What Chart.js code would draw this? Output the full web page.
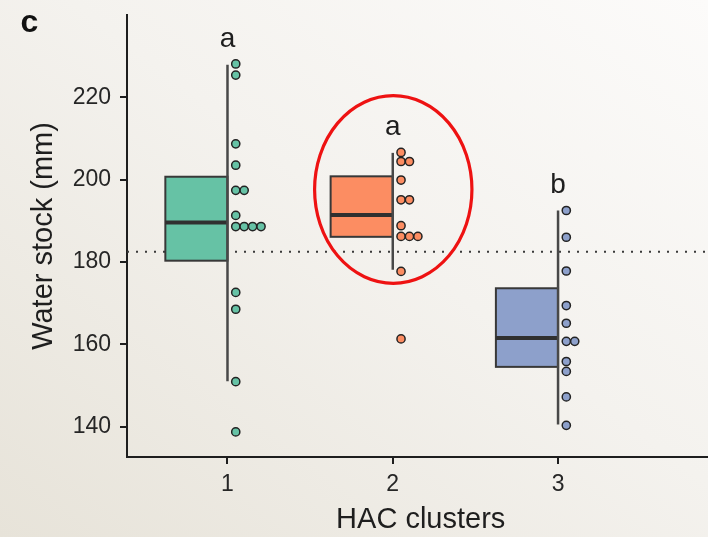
<!DOCTYPE html>
<html>
<head>
<meta charset="utf-8">
<script src="https://cdn.jsdelivr.net/npm/chart.js@4.4.0/dist/chart.umd.min.js"></script>
<style>
  html, body { margin: 0; padding: 0; width: 708px; height: 537px; overflow: hidden; }
  body { background: linear-gradient(to bottom left, #fcfbfa 0%, #f4f2ee 45%, #e7e3d9 100%); }
  #wrap { width: 720px; height: 537px; }
  canvas { display: block; }
</style>
</head>
<body>
<div id="wrap"><canvas id="chart" width="720" height="537"></canvas></div>
<script>
// HAC clusters and their box-plot summaries of water stock (mm)
const clusters = [1, 2, 3];
const clusterColors = ['#66c2a5', '#fc8d62', '#8da0cb'];
const boxQ1 = [180.3, 186.1, 154.5];
const boxMedian = [189.6, 191.4, 161.5];
const boxQ3 = [200.7, 200.8, 173.6];
const whiskerLow = [151.0, 178.1, 140.5];
const whiskerHigh = [227.9, 206.5, 192.5];

// individual observations per cluster
const cluster1Stock = [228.1, 225.4, 208.7, 203.5, 197.4, 197.4, 191.3, 188.6, 188.6, 188.6, 188.6, 172.6, 168.5, 150.9, 138.7];
const cluster2Stock = [206.6, 204.4, 204.4, 199.9, 195.1, 195.1, 188.8, 186.2, 186.2, 186.2, 177.7, 161.3];
const cluster3Stock = [192.5, 186.0, 177.8, 169.4, 165.1, 160.7, 160.7, 155.8, 153.4, 147.2, 140.3];

// significance letters and the overall mean reference
const groupLetters = ['a', 'a', 'b'];
const letterLevels = [232.3, 210.8, 196.7];
const meanStock = 182.5;

const yTicks = [140, 160, 180, 200, 220];
const xTicks = [1, 2, 3];

const FONT = "'Liberation Sans', Arial, Helvetica, sans-serif";
const X_MIN = 0.392, X_MAX = 3.946;
const Y_MIN = 132.6, Y_MAX = 240;
const BOX_WIDTH = 0.376;       // box extends to the left of the whisker
const DOT_OFFSET = 0.05;       // first dot column right of the whisker
const DOT_STEP = 0.051;        // spacing between tied dots

// lay tied values out side by side, dot-plot style
function dotLayout(cluster, values) {
  const seen = {};
  return values.map(v => {
    const k = v.toFixed(1);
    const col = seen[k] || 0;
    seen[k] = col + 1;
    return { x: cluster + DOT_OFFSET + col * DOT_STEP, y: v };
  });
}

const allStock = [cluster1Stock, cluster2Stock, cluster3Stock];

const dotSets = allStock.map((vals, i) => ({
  type: 'scatter',
  label: 'Cluster ' + clusters[i],
  data: dotLayout(clusters[i], vals),
  backgroundColor: clusterColors[i],
  borderColor: '#232323',
  borderWidth: 1.5,
  pointRadius: 4.1,
  pointHoverRadius: 4.1,
  order: 0
}));

const meanLine = {
  type: 'line',
  label: 'mean',
  data: [{ x: X_MIN, y: meanStock }, { x: X_MAX, y: meanStock }],
  borderColor: '#3a3a3a',
  borderWidth: 2,
  borderDash: [2, 7],
  pointRadius: 0,
  fill: false,
  order: 10
};

const boxPlot = {
  id: 'boxPlot',
  afterDatasetDraw(chart, args) {
    if (args.index !== 3) return;   // boxes sit above the mean line, below the dots
    const { ctx, scales: { x, y } } = chart;
    ctx.save();
    clusters.forEach((c, i) => {
      const xr = x.getPixelForValue(c);
      const xl = x.getPixelForValue(c - BOX_WIDTH);
      const yTop = y.getPixelForValue(boxQ3[i]);
      const yBot = y.getPixelForValue(boxQ1[i]);
      const yMed = y.getPixelForValue(boxMedian[i]);
      ctx.fillStyle = clusterColors[i];
      ctx.fillRect(xl, yTop, xr - xl, yBot - yTop);
      ctx.strokeStyle = '#383838';
      ctx.lineWidth = 2;
      ctx.strokeRect(xl, yTop, xr - xl, yBot - yTop);
      ctx.lineWidth = 4;
      ctx.strokeStyle = '#303030';
      ctx.beginPath();
      ctx.moveTo(xl, yMed);
      ctx.lineTo(xr, yMed);
      ctx.stroke();
      ctx.lineWidth = 2.5;
      ctx.strokeStyle = '#484848';
      ctx.beginPath();
      ctx.moveTo(xr, y.getPixelForValue(whiskerLow[i]));
      ctx.lineTo(xr, y.getPixelForValue(whiskerHigh[i]));
      ctx.stroke();
    });
    ctx.restore();
  },
  afterDatasetsDraw(chart) {
    const { ctx, scales: { x, y } } = chart;
    ctx.save();
    // group letters
    ctx.fillStyle = '#1e1e1e';
    ctx.font = '28px ' + FONT;
    ctx.textAlign = 'center';
    ctx.textBaseline = 'alphabetic';
    clusters.forEach((c, i) => {
      ctx.fillText(groupLetters[i], x.getPixelForValue(c), y.getPixelForValue(letterLevels[i]));
    });
    // highlight ring around cluster 2
    const cx = x.getPixelForValue(2.003), cy = y.getPixelForValue(197.6);
    const rx = x.getPixelForValue(2.003 + 0.476) - cx;
    const ry = y.getPixelForValue(197.6 - 22.8) - cy;
    ctx.strokeStyle = '#ee1212';
    ctx.lineWidth = 3.2;
    ctx.beginPath();
    ctx.ellipse(cx, cy, rx, ry, 0, 0, Math.PI * 2);
    ctx.stroke();
    // panel tag
    ctx.fillStyle = '#111';
    ctx.font = 'bold 32px ' + FONT;
    ctx.textAlign = 'center';
    ctx.fillText('c', 29.5, 32);
    ctx.restore();
  }
};

new Chart(document.getElementById('chart'), {
  data: { datasets: [...dotSets, meanLine] },
  plugins: [boxPlot],
  options: {
    responsive: false,
    animation: false,
    events: [],
    layout: { padding: { top: 15, left: 0, right: 0, bottom: 0 } },
    plugins: { legend: { display: false }, tooltip: { enabled: false } },
    scales: {
      x: {
        type: 'linear',
        min: X_MIN,
        max: X_MAX,
        afterBuildTicks: s => { s.ticks = xTicks.map(v => ({ value: v })); },
        afterFit: s => { s.height = 80; s.paddingLeft = 0; s.paddingRight = 0; },
        border: { display: true, color: '#1e1e1e', width: 2 },
        grid: { drawOnChartArea: false, drawTicks: true, tickLength: 7, color: '#1e1e1e', lineWidth: 2 },
        ticks: { font: { family: FONT, size: 23 }, color: '#262626', padding: 7, callback: v => String(v) },
        title: { display: true, text: 'HAC clusters', font: { family: FONT, size: 29 }, color: '#1e1e1e', padding: { top: 0, bottom: 0 } }
      },
      y: {
        type: 'linear',
        min: Y_MIN,
        max: Y_MAX,
        afterBuildTicks: s => { s.ticks = yTicks.map(v => ({ value: v })); },
        afterFit: s => { s.width = 127; s.paddingTop = 0; s.paddingBottom = 0; },
        border: { display: true, color: '#1e1e1e', width: 2 },
        grid: { drawOnChartArea: false, drawTicks: true, tickLength: 7, color: '#1e1e1e', lineWidth: 2 },
        ticks: { font: { family: FONT, size: 23 }, color: '#262626', padding: 9 },
        title: { display: true, text: 'Water stock (mm)', font: { family: FONT, size: 29 }, color: '#1e1e1e', padding: { top: 27, bottom: 0 } }
      }
    }
  }
});
</script>
</body>
</html>
